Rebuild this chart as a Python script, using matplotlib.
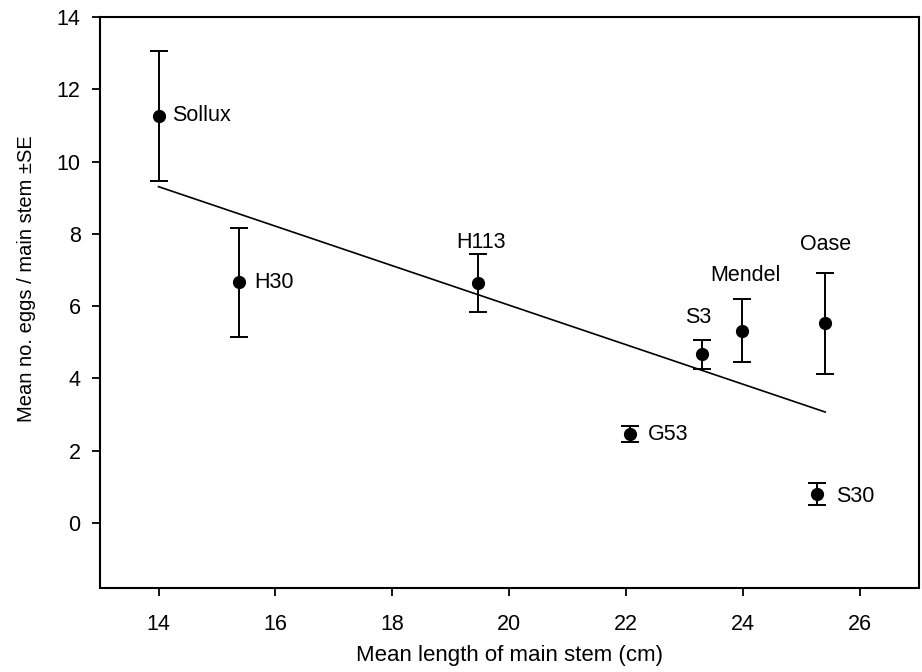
import matplotlib
matplotlib.use("Agg")
import matplotlib.pyplot as plt
import numpy as np

plt.rcParams['font.family'] = ['Liberation Sans', 'DejaVu Sans']

# cultivars: mean stem length, mean eggs per main stem, SE
cultivars = ["Sollux", "H30", "H113", "G53", "S3", "Mendel", "S30", "Oase"]
stem_length = [14.0, 15.38, 19.47, 22.06, 23.30, 23.97, 25.26, 25.40]
eggs_mean = [11.27, 6.66, 6.65, 2.45, 4.67, 5.32, 0.81, 5.52]
eggs_se = [1.80, 1.51, 0.80, 0.22, 0.40, 0.88, 0.30, 1.39]

x_ticks = [14, 16, 18, 20, 22, 24, 26]
y_ticks = [0, 2, 4, 6, 8, 10, 12, 14]

fig = plt.figure(figsize=(9.22, 6.72), dpi=100)
ax = fig.add_axes([0.1085, 0.125, 0.888, 0.8497])

ax.errorbar(stem_length, eggs_mean, yerr=eggs_se, fmt='o', color='black',
            markersize=8.5, elinewidth=1.4, capsize=6.5, capthick=1.4)

# linear regression through the means
slope, icpt = np.polyfit(stem_length, eggs_mean, 1)
xs = np.array([min(stem_length), max(stem_length)])
ax.plot(xs, slope * xs + icpt, color='black', lw=1.2)

# label placement (pixel offsets from the point)
label_pos = {
    "Sollux": (14, 0, 'left', 'center'),
    "H30": (15, 0, 'left', 'center'),
    "H113": (3, 40, 'center', 'center'),
    "G53": (18, 0, 'left', 'center'),
    "S3": (-4, 37, 'center', 'center'),
    "Mendel": (4, 55, 'center', 'center'),
    "S30": (19, -3, 'left', 'center'),
    "Oase": (0, 79, 'center', 'center'),
}
for name, x, y in zip(cultivars, stem_length, eggs_mean):
    dx, dy, ha, va = label_pos[name]
    ax.annotate(name, (x, y), xytext=(dx, dy), textcoords='offset pixels',
                ha=ha, va=va, fontsize=15.5)

ax.set_xlim(13, 27)
ax.set_ylim(-1.8, 14)
ax.set_xticks(x_ticks)
ax.set_yticks(y_ticks)
ax.tick_params(direction='out', length=6, width=1.3, labelsize=15.5)
ax.tick_params(axis='x', pad=13)
ax.tick_params(axis='y', pad=8)
for s in ax.spines.values():
    s.set_linewidth(1.5)

ax.set_xlabel("Mean length of main stem (cm)", fontsize=16, labelpad=7)
ax.set_ylabel("Mean no. eggs / main stem \u00b1SE", fontsize=14.5)
ax.yaxis.set_label_coords(-0.078, 0.541)

fig.savefig("out.png", dpi=100)
